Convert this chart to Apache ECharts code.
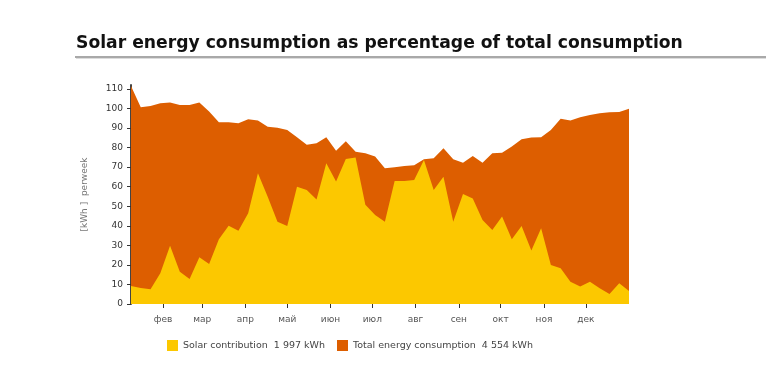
<!DOCTYPE html>
<html>
<head>
<meta charset="utf-8">
<script src="https://cdn.jsdelivr.net/npm/echarts@6/dist/echarts.min.js"></script>
<style>
html,body{margin:0;padding:0;background:#fff;}
#chart{width:766px;height:379px;}
</style>
</head>
<body>
<div id="chart"></div>
<script>
// Week positions: day of year (days since Jan 1) for each of the 52 weekly samples
const weekDays = Array.from({length: 52}, (_, i) => 8 + 7 * i);

// Month boundaries (days since Jan 1) and their labels
const monthStartDays = [31, 59, 90, 120, 151, 181, 212, 243, 273, 304, 334];
const monthLabels = ['фев', 'мар', 'апр', 'май', 'июн', 'июл', 'авг', 'сен', 'окт', 'ноя', 'дек'];

// Y axis tick values
const yTicks = [0, 10, 20, 30, 40, 50, 60, 70, 80, 90, 100, 110];

// Series names
const solarName = 'Solar contribution  1 997 kWh';
const totalName = 'Total energy consumption  4 554 kWh';

// Weekly values, kWh per week
const totalValues = [
  111.5, 100.6, 101.3, 102.7, 103.0, 101.8, 101.8, 103.0, 98.4, 93.0, 93.0, 92.4, 94.5,
  93.8, 90.6, 90.2, 89.0, 85.3, 81.4, 82.2, 85.3, 78.4, 83.2, 77.9, 77.1,
  75.4, 69.4, 69.9, 70.6, 71.0, 74.0, 74.5, 79.6, 74.0, 72.3, 75.7, 72.3, 77.1,
  77.4, 80.5, 84.3, 85.1, 85.3, 89.0, 94.7, 93.8, 95.5, 96.7, 97.6, 98.1, 98.2, 99.9
];
const solarValues = [
  9.2, 8.2, 7.5, 15.7, 29.8, 16.5, 12.8, 23.9, 20.5, 33.1, 40.0, 37.5, 46.4,
  66.9, 54.9, 42.1, 39.9, 60.0, 58.3, 53.5, 72.0, 62.6, 74.2, 74.9, 50.7,
  45.5, 42.1, 62.9, 62.9, 63.4, 73.7, 58.3, 65.1, 42.1, 56.3, 54.0, 43.0, 37.9,
  44.7, 33.1, 39.9, 27.3, 38.7, 20.0, 18.3, 11.4, 8.9, 11.4, 8.0, 5.1, 10.6, 6.6
];

const solarColor = '#FCC800';
const totalColor = '#DD5E00';
const smallFont = 'DejaVu Sans';

const chart = echarts.init(document.getElementById('chart'), null, {renderer: 'canvas'});

const pair = (vals) => vals.map((v, i) => [weekDays[i], v]);

chart.setOption({
  animation: false,
  backgroundColor: '#fff',
  title: {
    text: 'Solar energy consumption as percentage of total consumption',
    left: 71,
    top: 30,
    textStyle: {
      fontFamily: 'DejaVu Sans',
      fontWeight: 'bold',
      fontSize: 17.2,
      color: '#111'
    }
  },
  graphic: [{
    type: 'rect',
    shape: {x: 75, y: 56, width: 691, height: 2},
    style: {fill: '#a9a9a9'}
  }, {
    type: 'rect',
    shape: {x: 76, y: 58, width: 690, height: 1},
    style: {fill: '#dcdcdc'}
  }],
  legend: {
    left: 162,
    top: 335,
    itemWidth: 11,
    itemHeight: 11,
    itemGap: 12,
    icon: 'rect',
    data: [solarName, totalName],
    textStyle: {
      fontFamily: smallFont,
      fontSize: 9.5,
      color: '#444'
    }
  },
  grid: {
    left: 131,
    right: 137,
    top: 85,
    bottom: 75,
    containLabel: false
  },
  xAxis: {
    type: 'value',
    min: 8,
    max: 365,
    axisLine: {show: false},
    splitLine: {show: false},
    axisTick: {
      show: true,
      length: 4,
      customValues: monthStartDays,
      lineStyle: {color: '#333', width: 1}
    },
    axisLabel: {
      customValues: monthStartDays,
      margin: 11,
      fontFamily: smallFont,
      fontSize: 9,
      color: '#555',
      formatter: (v) => {
        const k = monthStartDays.indexOf(v);
        return k >= 0 ? monthLabels[k] : '';
      }
    }
  },
  yAxis: {
    type: 'value',
    min: 0,
    max: 112,
    name: '[kWh ]  perweek',
    nameLocation: 'middle',
    nameRotate: 90,
    nameGap: 42,
    nameTextStyle: {
      fontFamily: smallFont,
      fontSize: 9,
      color: '#777'
    },
    axisLine: {show: true, lineStyle: {color: '#444', width: 2}},
    splitLine: {show: false},
    axisTick: {
      show: true,
      length: 4,
      customValues: yTicks,
      lineStyle: {color: '#333', width: 1}
    },
    axisLabel: {
      customValues: yTicks,
      margin: 8,
      fontFamily: smallFont,
      fontSize: 9,
      color: '#333'
    }
  },
  series: [{
    name: totalName,
    type: 'line',
    data: pair(totalValues),
    showSymbol: false,
    symbol: 'none',
    lineStyle: {width: 0},
    itemStyle: {color: totalColor},
    areaStyle: {color: totalColor, opacity: 1},
    z: 1
  }, {
    name: solarName,
    type: 'line',
    data: pair(solarValues),
    showSymbol: false,
    symbol: 'none',
    lineStyle: {width: 0},
    itemStyle: {color: solarColor},
    areaStyle: {color: solarColor, opacity: 1},
    z: 2
  }]
});
</script>
</body>
</html>
